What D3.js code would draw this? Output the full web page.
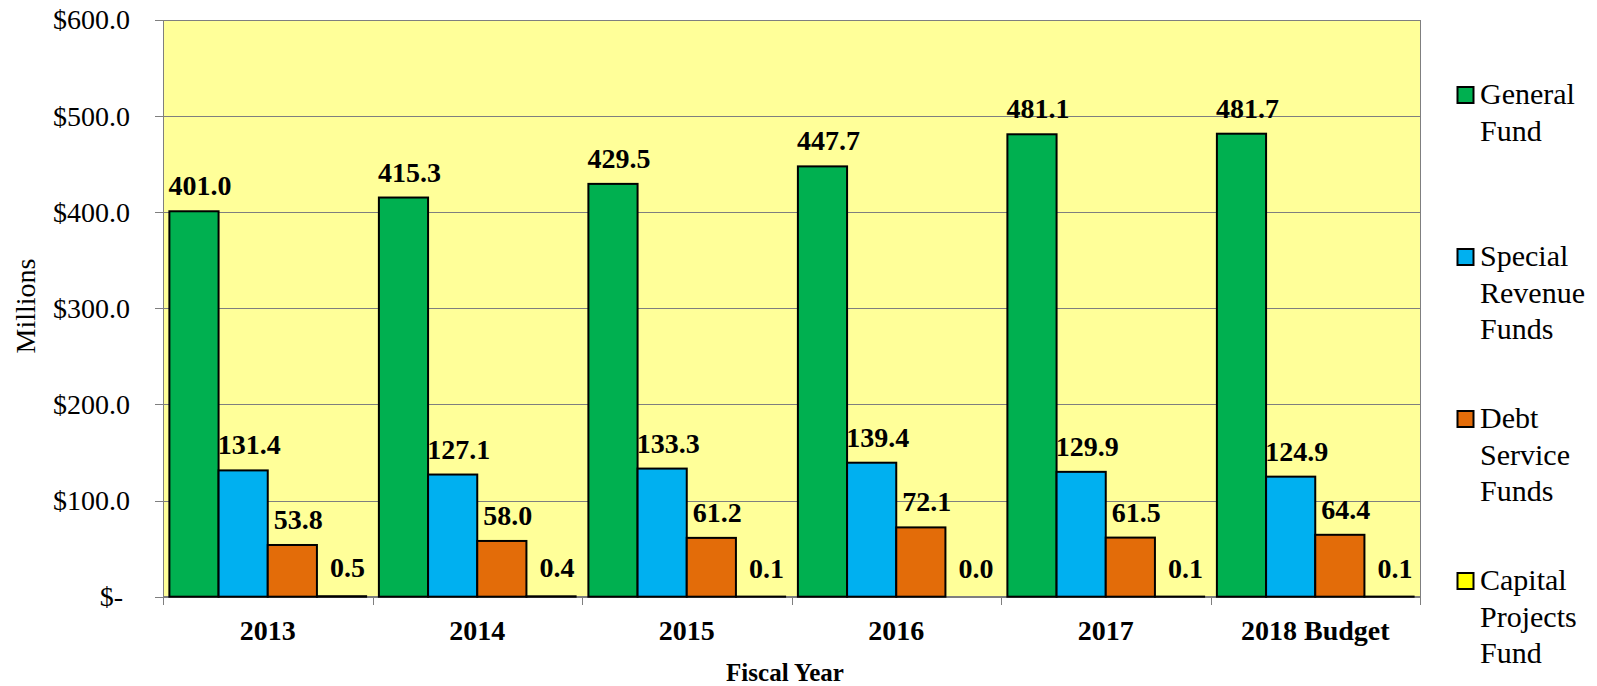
<!DOCTYPE html>
<html>
  <head>
    <meta http-equiv="Content-Type" content="text/html;charset=utf-8"/>
    <style type="text/css">

body {
  margin: 0;
  background: #fff;
  overflow: hidden;
}

svg {
  font-family: "Liberation Serif", "Times New Roman", serif;
}

.grid line {
  stroke: #7f7f7f;
  stroke-width: 1px;
  shape-rendering: crispEdges;
}

.axis path, .axis line {
  fill: none;
  stroke: #7f7f7f;
  stroke-width: 1px;
  shape-rendering: crispEdges;
}

.axis text {
  fill: #000;
}

.bar {
  stroke: #000;
  stroke-width: 2px;
}

.value {
  font-size: 28px;
  font-weight: bold;
}

.legend text {
  font-size: 30px;
}

    </style>
  </head>
  <body>
    <svg></svg>

    <script type="text/javascript" src="https://cdn.jsdelivr.net/npm/d3@7"></script>

    <script type="text/javascript">

// data
var years = ["2013", "2014", "2015", "2016", "2017", "2018 Budget"];
var funds = ["General Fund", "Special Revenue Funds", "Debt Service Funds", "Capital Projects Fund"];
var generalFund     = [401.0, 415.3, 429.5, 447.7, 481.1, 481.7];
var specialRevenue  = [131.4, 127.1, 133.3, 139.4, 129.9, 124.9];
var debtService     = [53.8, 58.0, 61.2, 72.1, 61.5, 64.4];
var capitalProjects = [0.5, 0.4, 0.1, 0.0, 0.1, 0.1];
var yTicks = [0, 100, 200, 300, 400, 500, 600];
var legendLines = [["General", "Fund"], ["Special", "Revenue", "Funds"], ["Debt", "Service", "Funds"], ["Capital", "Projects", "Fund"]];

var colors = ["#00b050", "#00b0f0", "#e36c09", "#ffff00"];
var series = [generalFund, specialRevenue, debtService, capitalProjects];

var W = 1597, H = 686;
var m = {top: 20, right: 177, bottom: 89, left: 163};

var svg = d3.select("svg")
    .attr("width", W)
    .attr("height", H);

var x0 = d3.scaleBand().domain(years).range([m.left, W - m.right]);
var x1 = d3.scaleBand().domain(funds).range([0, x0.bandwidth()]).paddingOuter(0.13);
var y = d3.scaleLinear().domain([0, 600]).range([H - m.bottom - 0.3, m.top]);

// plot area
svg.append("rect")
    .attr("x", m.left)
    .attr("y", m.top)
    .attr("width", W - m.right - m.left)
    .attr("height", y(0) - m.top)
    .attr("fill", "#ffff99")
    .attr("stroke", "#7f7f7f")
    .attr("shape-rendering", "crispEdges");

// gridlines
svg.append("g")
    .attr("class", "grid")
  .selectAll("line")
    .data(yTicks.slice(1))
  .enter().append("line")
    .attr("x1", m.left)
    .attr("x2", W - m.right)
    .attr("y1", function(d) { return Math.round(y(d)) + 0.5; })
    .attr("y2", function(d) { return Math.round(y(d)) + 0.5; });

// y axis
var yAxis = svg.append("g")
    .attr("class", "axis")
    .attr("transform", "translate(" + m.left + ",0)")
    .call(d3.axisLeft(y)
      .tickValues(yTicks)
      .tickSize(8)
      .tickPadding(25)
      .tickSizeOuter(0)
      .tickFormat(function(d) { return d === 0 ? "$-" : "$" + d.toFixed(1); }));

yAxis.selectAll("text")
    .attr("font-size", 28)
    .attr("font-family", "Liberation Serif")
    .attr("dx", function(d) { return d === 0 ? -7 : 0; });

// x axis
var xAxis = svg.append("g")
    .attr("class", "axis")
    .attr("transform", "translate(0," + y(0) + ")")
    .call(d3.axisBottom(x0).tickSize(0).tickPadding(23));

xAxis.selectAll("text")
    .attr("font-size", 28)
    .attr("font-weight", "bold")
    .attr("font-family", "Liberation Serif");

// category separators
xAxis.selectAll(".sep")
    .data(years.concat(["end"]))
  .enter().append("line")
    .attr("class", "sep")
    .attr("x1", function(d, i) { return Math.round(m.left + i * x0.step()) + 0.5; })
    .attr("x2", function(d, i) { return Math.round(m.left + i * x0.step()) + 0.5; })
    .attr("y1", 0)
    .attr("y2", 8);

// bars
var groups = svg.selectAll("g.year")
    .data(years)
  .enter().append("g")
    .attr("class", "year")
    .attr("transform", function(d) { return "translate(" + x0(d) + ",0)"; });

var cells = groups.selectAll("g.cell")
    .data(function(d, i) {
      return funds.map(function(f, j) { return {fund: f, value: series[j][i], k: j}; });
    })
  .enter().append("g")
    .attr("class", "cell");

cells.append("rect")
    .attr("class", "bar")
    .attr("x", function(d) { return x1(d.fund); })
    .attr("width", x1.bandwidth())
    .attr("y", function(d) { return y(d.value); })
    .attr("height", function(d) { return y(0) - y(d.value); })
    .attr("fill", function(d) { return colors[d.k]; });

cells.append("text")
    .attr("class", "value")
    .attr("text-anchor", "middle")
    .attr("x", function(d) { return x1(d.fund) + x1.bandwidth() / 2 + 6; })
    .attr("y", function(d) { return y(d.value) - (d.value < 5 ? 19 : 16); })
    .text(function(d) { return d.value.toFixed(1); });

// axis titles
svg.append("text")
    .attr("text-anchor", "middle")
    .attr("font-size", 28)
    .attr("transform", "translate(35,306) rotate(-90)")
    .text("Millions");

svg.append("text")
    .attr("text-anchor", "middle")
    .attr("font-size", 25)
    .attr("font-weight", "bold")
    .attr("x", 785)
    .attr("y", 681)
    .text("Fiscal Year");

// legend
var legend = svg.selectAll("g.legend")
    .data(funds)
  .enter().append("g")
    .attr("class", "legend")
    .attr("transform", function(d, i) { return "translate(1457," + (95 + i * 162) + ")"; });

legend.append("rect")
    .attr("x", 0.5)
    .attr("y", -8)
    .attr("width", 16)
    .attr("height", 16)
    .attr("fill", function(d, i) { return colors[i]; })
    .attr("stroke", "#000")
    .attr("stroke-width", 2);

legend.each(function(d, i) {
  d3.select(this).selectAll("text")
      .data(legendLines[i])
    .enter().append("text")
      .attr("x", 23)
      .attr("y", function(t, j) { return 9 + j * 36.5; })
      .text(String);
});

    </script>
  </body>
</html>
